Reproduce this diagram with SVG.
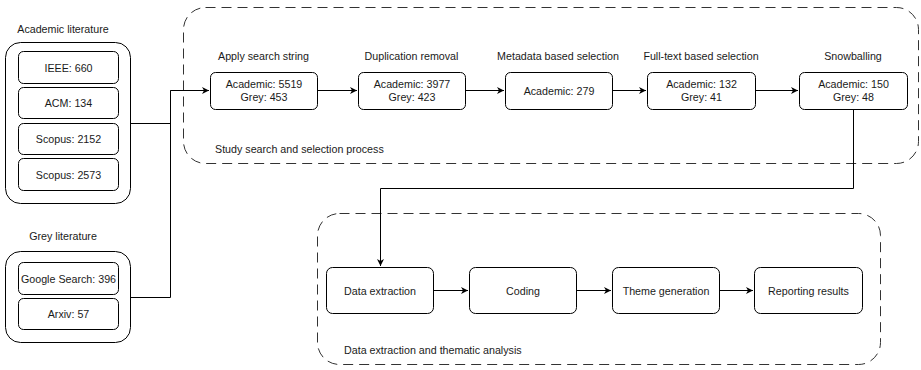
<svg xmlns="http://www.w3.org/2000/svg" width="921" height="370" viewBox="0 0 921 370">
<defs>
<style>
text{font-family:"Liberation Sans",Arial,sans-serif;font-size:10.7px;fill:#1a1a1a;text-anchor:middle}
.lbl{text-anchor:start}
.box{fill:#fff;stroke:#000;stroke-width:1}
.outer{fill:none;stroke:#000;stroke-width:1}
.dash{fill:none;stroke:#333;stroke-width:1;stroke-dasharray:10 6}
.conn{fill:none;stroke:#000;stroke-width:1}
</style>
<marker id="arr" markerWidth="10" markerHeight="10" refX="8" refY="5" orient="auto" markerUnits="userSpaceOnUse">
<path d="M1,1.5 L8,5 L1,8.5 L3,5 Z" fill="#000"/>
</marker>
</defs>
<rect width="921" height="370" fill="#fff"/>

<g id="search-process">
<rect class="dash" x="183.5" y="7.5" width="735" height="156" rx="22"/>
<text class="lbl" x="215" y="152.5">Study search and selection process</text>
</g>
<g id="analysis-process">
<rect class="dash" x="317.5" y="213.5" width="563" height="151" rx="22"/>
<text class="lbl" x="344" y="353.5">Data extraction and thematic analysis</text>
</g>

<g id="academic">
<text x="63" y="33">Academic literature</text>
<rect class="outer" x="5.5" y="42.5" width="125" height="161" rx="15"/>
<g id="ieee"><rect class="box" x="18.5" y="51.5" width="100" height="32" rx="5"/><text x="68.5" y="71.5">IEEE: 660</text></g>
<g id="acm"><rect class="box" x="18.5" y="87.5" width="100" height="31" rx="5"/><text x="68.5" y="107">ACM: 134</text></g>
<g id="scopus1"><rect class="box" x="18.5" y="123.5" width="100" height="31" rx="5"/><text x="68.5" y="143">Scopus: 2152</text></g>
<g id="scopus2"><rect class="box" x="18.5" y="158.5" width="100" height="32" rx="5"/><text x="68.5" y="178.5">Scopus: 2573</text></g>
</g>

<g id="grey">
<text x="63" y="240">Grey literature</text>
<rect class="outer" x="5.5" y="251.5" width="125" height="91" rx="15"/>
<g id="google"><rect class="box" x="18.5" y="262.5" width="100" height="32" rx="5"/><text x="68.5" y="282.5">Google Search: 396</text></g>
<g id="arxiv"><rect class="box" x="18.5" y="298.5" width="100" height="31" rx="5"/><text x="68.5" y="318">Arxiv: 57</text></g>
</g>

<g id="connectors">
<path class="conn" d="M130.5,123.5 H170.5 V90.5 H209" marker-end="url(#arr)"/>
<path class="conn" d="M130.5,297.5 H170.5 V90.5"/>
<path class="conn" d="M317.5,90.5 H357" marker-end="url(#arr)"/>
<path class="conn" d="M465.5,90.5 H504" marker-end="url(#arr)"/>
<path class="conn" d="M612.5,90.5 H646" marker-end="url(#arr)"/>
<path class="conn" d="M755.5,90.5 H798" marker-end="url(#arr)"/>
<path class="conn" d="M853.5,109.5 V188.5 H380.5 V266" marker-end="url(#arr)"/>
<path class="conn" d="M433.5,290.5 H468" marker-end="url(#arr)"/>
<path class="conn" d="M576.5,290.5 H611" marker-end="url(#arr)"/>
<path class="conn" d="M719.5,290.5 H753" marker-end="url(#arr)"/>
</g>

<g id="apply">
<text x="263.5" y="60">Apply search string</text>
<rect class="box" x="210.5" y="72.5" width="107" height="37" rx="5"/>
<text x="264" y="88">Academic: 5519</text><text x="264" y="101">Grey: 453</text>
</g>
<g id="dedup">
<text x="411.5" y="60">Duplication removal</text>
<rect class="box" x="358.5" y="72.5" width="107" height="37" rx="5"/>
<text x="412" y="88">Academic: 3977</text><text x="412" y="101">Grey: 423</text>
</g>
<g id="metadata">
<text x="558" y="60">Metadata based selection</text>
<rect class="box" x="505.5" y="72.5" width="107" height="37" rx="5"/>
<text x="559" y="94.5">Academic: 279</text>
</g>
<g id="fulltext">
<text x="701" y="60">Full-text based selection</text>
<rect class="box" x="647.5" y="72.5" width="108" height="37" rx="5"/>
<text x="701.5" y="88">Academic: 132</text><text x="701.5" y="101">Grey: 41</text>
</g>
<g id="snowballing">
<text x="853" y="60">Snowballing</text>
<rect class="box" x="799.5" y="72.5" width="108" height="37" rx="5"/>
<text x="853.5" y="88">Academic: 150</text><text x="853.5" y="101">Grey: 48</text>
</g>

<g id="extraction"><rect class="box" x="326.5" y="267.5" width="107" height="46" rx="6"/><text x="380" y="294.5">Data extraction</text></g>
<g id="coding"><rect class="box" x="469.5" y="267.5" width="107" height="46" rx="6"/><text x="523" y="294.5">Coding</text></g>
<g id="theme"><rect class="box" x="612.5" y="267.5" width="107" height="46" rx="6"/><text x="666" y="294.5">Theme generation</text></g>
<g id="reporting"><rect class="box" x="754.5" y="267.5" width="108" height="46" rx="6"/><text x="808.5" y="294.5">Reporting results</text></g>
</svg>
